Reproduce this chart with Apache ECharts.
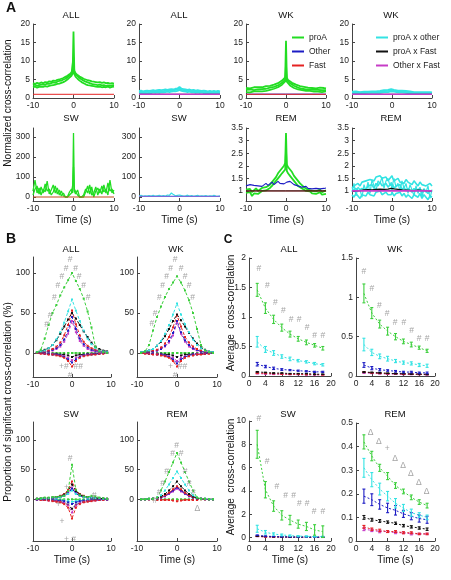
<!DOCTYPE html>
<html><head><meta charset="utf-8">
<script src="https://cdn.jsdelivr.net/npm/echarts@6/dist/echarts.min.js"></script>
<style>html,body{margin:0;padding:0;background:#fff}#c{width:451px;height:580px}</style>
</head><body><div id="c"></div>
<script>
// ---------- Panel A data ----------
const tA = [-10,-9.5,-9,-8.5,-8,-7.5,-7,-6.5,-6,-5.5,-5,-4.5,-4,-3.5,-3,-2.5,-2,-1.5,-1,-0.5,-0.2,0,0.2,0.5,1,1.5,2,2.5,3,3.5,4,4.5,5,5.5,6,6.5,7,7.5,8,8.5,9,9.5,10];
const tFlat = [-10,-0.2,0,0.2,10];
const gAll1 = [4.0,3.8,4.1,3.9,4.2,4.0,4.3,4.2,4.5,4.4,4.7,4.6,4.9,5.0,5.2,5.4,5.7,6.0,6.4,6.9,7.5,18,7.4,6.7,6.2,5.8,5.5,5.2,5.0,4.8,4.7,4.5,4.4,4.3,4.2,4.3,4.1,4.2,4.0,4.1,3.9,4.0,3.9];
const gAll2 = [3.4,3.6,3.3,3.5,3.6,3.7,3.6,3.9,3.8,4.0,4.2,4.1,4.4,4.6,4.7,5.0,5.2,5.6,6.0,6.5,7.0,11,7.0,6.4,5.9,5.4,5.0,4.7,4.4,4.2,4.0,3.8,3.7,3.6,3.5,3.6,3.4,3.5,3.3,3.4,3.3,3.4,3.5];
const gAll3 = [2.9,3.1,2.8,3.0,3.1,3.0,3.2,3.1,3.3,3.4,3.5,3.6,3.8,3.9,4.1,4.3,4.6,5.0,5.5,6.0,6.6,9,6.5,5.8,5.2,4.7,4.3,4.0,3.7,3.5,3.4,3.3,3.2,3.1,3.0,3.1,2.9,3.0,2.9,3.1,2.8,3.0,3.1];
const rAllFlat = [1,1,1.02,1,1];
const cAll1 = [1.9,2.0,1.8,1.9,2.0,1.9,2.0,2.1,2.0,2.1,2.2,2.1,2.2,2.3,2.2,2.3,2.4,2.3,2.5,2.6,2.7,3.0,2.7,2.5,2.4,2.3,2.2,2.3,2.1,2.2,2.0,2.1,2.0,1.9,2.0,1.9,1.8,1.9,1.8,1.9,1.8,1.9,1.8];
const cAll2 = [1.3,1.4,1.2,1.4,1.3,1.4,1.3,1.5,1.4,1.5,1.4,1.6,1.5,1.6,1.7,1.6,1.7,1.8,1.8,1.9,2.0,2.2,2.0,1.9,1.8,1.7,1.6,1.7,1.5,1.6,1.4,1.5,1.4,1.5,1.3,1.4,1.3,1.4,1.2,1.3,1.4,1.3,1.3];
const cAll3 = [1.6,1.7,1.5,1.6,1.7,1.6,1.7,1.8,1.7,1.8,1.8,1.9,1.8,2.0,1.9,2.0,2.1,2.0,2.2,2.3,2.4,2.6,2.3,2.2,2.1,2.0,1.9,2.0,1.8,1.9,1.7,1.8,1.7,1.7,1.6,1.7,1.6,1.6,1.5,1.6,1.6,1.6,1.5];
const mAllFlat = [1,1,1,1,1];
const kAllFlat = [1,1,1.4,1,1];
const gWk1 = [2.7,2.8,2.6,2.8,2.9,2.7,2.9,3.0,2.9,3.1,3.2,3.1,3.3,3.5,3.6,3.8,4.0,4.3,4.7,5.1,5.6,15.5,5.5,4.9,4.5,4.1,3.8,3.6,3.4,3.2,3.1,3.0,2.9,2.8,2.9,2.7,2.8,2.6,2.7,2.8,2.6,2.7,2.6];
const gWk2 = [2.2,2.1,2.3,2.2,2.1,2.4,2.3,2.5,2.4,2.6,2.5,2.7,2.8,2.9,3.0,3.2,3.4,3.7,4.1,4.6,5.0,9,4.9,4.4,4.0,3.6,3.3,3.0,2.8,2.6,2.5,2.4,2.3,2.2,2.3,2.1,2.2,2.1,2.2,2.0,2.1,2.2,2.1];
const gWk3 = [1.6,1.7,1.5,1.7,1.8,1.7,1.8,1.9,1.8,2.0,1.9,2.1,2.2,2.3,2.5,2.7,2.9,3.2,3.6,4.1,4.5,7,4.4,3.9,3.4,3.0,2.7,2.5,2.3,2.2,2.1,2.0,1.9,1.8,1.9,1.8,1.7,1.8,1.7,1.8,1.6,1.7,1.8];
const bWkFlat = [1.05,1.05,1.1,1.05,1.05];
const rWkFlat = [1,1,1,1,1];
const cWk1 = [1.7,1.6,1.8,1.7,1.6,1.8,1.7,1.8,1.7,1.9,1.8,1.9,1.8,2.0,1.9,2.0,2.1,2.0,2.2,2.3,2.4,2.6,2.3,2.2,2.1,2.0,1.9,2.0,1.8,1.9,1.7,1.8,1.7,1.6,1.7,1.6,1.7,1.6,1.5,1.6,1.5,1.6,1.5];
const cWk2 = [1.2,1.3,1.1,1.2,1.3,1.2,1.3,1.2,1.4,1.3,1.4,1.3,1.4,1.5,1.4,1.5,1.6,1.5,1.6,1.7,1.8,2.0,1.8,1.7,1.6,1.5,1.4,1.5,1.3,1.4,1.3,1.2,1.3,1.2,1.3,1.2,1.1,1.2,1.3,1.2,1.1,1.2,1.2];
const cWk3 = [1.45,1.5,1.4,1.5,1.45,1.5,1.5,1.55,1.5,1.6,1.6,1.6,1.6,1.75,1.65,1.75,1.85,1.75,1.9,2.0,2.1,2.3,2.05,1.95,1.85,1.75,1.65,1.75,1.55,1.65,1.5,1.5,1.5,1.4,1.5,1.4,1.4,1.4,1.4,1.4,1.3,1.4,1.35];
const mWkFlat = [1,1,1,1,1];
const kWkFlat = [1,1,1.2,1,1];
const swG1 = [30,85,20,45,10,40,25,80,15,35,60,20,45,10,30,5,0,0,25,40,20,320,30,15,35,0,0,0,25,55,15,50,0,30,45,20,55,25,40,10,85,20,35];
const swG2 = [10,40,55,15,50,20,65,30,40,10,25,55,15,35,5,20,0,0,10,20,60,150,40,30,10,0,0,10,40,20,60,10,20,50,10,40,15,60,20,70,30,40,15];
const swRFlat = [0,0,0,0,0];
const swC = [5,8,3,6,4,7,5,9,4,6,8,5,7,4,10,8,20,12,6,8,5,10,6,7,4,6,9,5,7,3,6,8,4,6,5,7,3,6,4,8,5,3,6];
const swMFlat = [3,3,3,3,3];
const remG1 = [1.05,1.0,1.08,0.95,1.02,1.1,1.0,1.05,1.12,1.08,1.15,1.2,1.25,1.35,1.45,1.55,1.7,1.8,1.9,2.0,2.1,3.3,2.05,1.95,1.85,1.75,1.6,1.5,1.4,1.3,1.25,1.15,1.1,1.05,1.1,1.0,1.05,0.98,1.02,1.05,0.95,1.0,1.02];
const remG2 = [0.92,0.85,0.95,0.8,0.9,0.95,0.88,0.95,1.0,0.98,1.02,1.08,1.12,1.2,1.3,1.4,1.5,1.6,1.7,1.75,1.85,2.6,1.8,1.7,1.6,1.5,1.4,1.3,1.2,1.15,1.1,1.05,1.0,0.95,0.98,0.9,0.95,0.88,0.92,0.95,0.85,0.9,0.88];
const remB = [1.2,1.15,1.25,1.18,1.22,1.28,1.2,1.26,1.18,1.24,1.3,1.22,1.28,1.35,1.25,1.3,1.38,1.3,1.32,1.28,1.35,1.3,1.35,1.3,1.38,1.32,1.25,1.3,1.2,1.22,1.15,1.12,1.18,1.1,1.15,1.08,1.12,1.1,1.15,1.08,1.12,1.1,1.12];
const remRFlat = [1,1,1.06,1,1];
const remKFlat = [1,1,1,1,1];
const remC1 = [1.1,1.2,1.25,1.3,1.2,1.35,1.3,1.4,1.35,1.45,1.5,1.4,1.55,1.5,1.6,1.5,1.45,1.55,1.4,1.5,1.45,1.6,1.5,1.4,1.45,1.5,1.35,1.4,1.3,1.45,1.35,1.3,1.25,1.4,1.3,1.2,1.35,1.25,1.3,1.2,1.25,1.3,1.2];
const remC2 = [0.85,0.75,0.9,0.8,0.7,0.85,0.9,0.8,0.95,0.85,0.9,0.8,0.95,0.9,1.0,0.85,0.9,0.95,0.85,0.9,0.85,0.95,0.9,0.8,0.9,0.85,0.95,0.8,0.9,0.75,0.85,0.9,0.7,0.85,0.8,0.75,0.9,0.7,0.85,0.8,0.65,0.8,0.75];
const remC3 = [1.0,1.05,1.1,1.0,0.95,1.1,1.15,1.05,1.2,1.15,1.25,1.1,1.3,1.2,1.35,1.2,1.25,1.3,1.15,1.25,1.2,1.3,1.25,1.1,1.2,1.15,1.25,1.05,1.15,1.0,1.1,1.15,0.95,1.1,1.0,0.95,1.1,0.9,1.05,1.0,0.9,1.0,0.95];
const remC4 = [0.95,1.3,0.8,1.15,1.05,0.75,1.25,1.0,1.35,0.9,1.45,1.2,1.0,1.4,1.3,1.55,1.1,1.4,1.5,1.2,1.35,1.0,1.3,1.5,1.15,1.3,1.0,1.4,1.1,1.3,0.9,1.25,1.05,0.8,1.2,0.9,1.15,0.75,1.1,0.95,1.2,0.7,1.05];
const remK = [1.0,1.02,1.0,1.03,1.01,1.02,1.04,1.02,1.05,1.03,1.04,1.02,1.06,1.05,1.07,1.05,1.06,1.08,1.07,1.1,1.1,1.15,1.1,1.08,1.07,1.06,1.05,1.04,1.05,1.03,1.04,1.02,1.03,1.01,1.02,1.03,1.01,1.02,1.0,1.01,1.02,1.0,1.01];
const remMFlat = [1,1,1,1,1];

// ---------- Panel B data ----------
const tB = [-9,-8,-7,-6,-5,-4,-3,-2,-1,0,1,2,3,4,5,6,7,8,9];
const bZero = [0,0,0,0,0,0,0,0,0,0,0,0,0,0,0,0,0,0,0];
const bAllG = [1,4,18,35,50,60,72,82,91,100,90,80,68,52,32,8,2,1,0];
const bAllC = [1,2,3,6,10,17,26,38,52,67,53,40,28,18,11,6,3,2,1];
const bAllK = [1,2,4,6,10,16,24,33,42,50,43,35,27,20,13,8,5,3,2];
const bAllR = [0,1,2,3,5,8,13,22,35,53,36,22,14,9,6,4,3,2,1];
const bAllB = [0,1,1,2,4,6,10,17,28,45,30,18,11,7,4,3,2,1,0];
const bAllM = [0,1,1,2,3,5,8,14,24,40,26,15,9,5,3,2,1,1,0];
const bAllRn = [0,-1,-1,-2,-2,-3,-4,-6,-10,-17,-10,-6,-4,-3,-2,-2,-1,-1,0];
const bAllBn = [0,0,-1,-1,-2,-2,-3,-5,-8,-12,-8,-5,-3,-2,-2,-1,-1,0,0];
const bAllMn = [0,0,-1,-1,-1,-2,-3,-4,-6,-9,-6,-4,-3,-2,-1,-1,-1,0,0];
const bAllKn = [0,0,0,-1,-1,-1,-2,-2,-3,-5,-3,-2,-2,-1,-1,-1,0,0,0];
const bWkG = [0,2,10,28,45,58,70,80,88,96,88,78,66,50,30,10,3,1,0];
const bWkC = [1,2,3,5,9,15,24,35,48,62,48,36,26,17,10,6,3,2,1];
const bWkK = [1,2,3,5,9,14,21,30,40,48,41,33,25,18,12,7,4,2,1];
const bWkR = [0,1,2,3,4,7,12,20,32,47,33,20,13,8,5,3,2,1,0];
const bWkB = [0,1,1,2,3,5,9,15,25,40,26,16,10,6,4,2,1,1,0];
const bWkM = [0,1,1,2,3,5,8,13,22,38,24,14,8,5,3,2,1,1,0];
const bWkRn = [0,-1,-1,-2,-2,-3,-4,-6,-10,-17,-10,-6,-4,-3,-2,-2,-1,-1,0];
const bWkBn = [0,0,-1,-1,-2,-2,-3,-5,-8,-13,-8,-5,-3,-2,-2,-1,-1,0,0];
const bWkMn = [0,0,-1,-1,-1,-2,-3,-4,-6,-10,-6,-4,-3,-2,-1,-1,-1,0,0];
const bWkKn = [0,0,0,-1,-1,-1,-2,-2,-3,-5,-3,-2,-2,-1,-1,-1,0,0,0];
const bSwG = [1,2,3,3,4,4,5,6,14,58,16,7,5,4,6,5,3,2,1];
const bSwC = [1,1,2,2,3,3,4,6,9,15,9,6,4,3,3,2,2,1,1];
const bSwK = [1,1,2,2,3,4,5,8,14,25,14,8,5,4,3,2,2,1,1];
const bSwR = [1,1,2,2,3,4,6,9,16,30,16,9,6,4,3,2,2,1,1];
const bSwB = [0,1,1,2,2,3,4,6,10,18,10,6,4,3,2,2,1,1,0];
const bSwM = [0,1,1,2,2,3,4,7,11,20,11,7,4,3,2,2,1,1,0];
const bSwRn = [0,-1,-1,-2,-3,-4,-5,-8,-14,-32,-14,-8,-5,-4,-3,-2,-1,-1,0];
const bSwMn = [0,-1,-1,-2,-2,-3,-4,-6,-10,-22,-10,-6,-4,-3,-2,-2,-1,-1,0];
const bSwKn = [0,0,-1,-1,-2,-3,-4,-6,-9,-16,-9,-6,-4,-3,-2,-1,-1,0,0];
const bSwBn = [0,0,-1,-1,-1,-2,-2,-3,-5,-8,-5,-3,-2,-2,-1,-1,-1,0,0];
const bSwCn = [0,0,0,-1,-1,-1,-2,-2,-3,-4,-3,-2,-2,-1,-1,-1,0,0,0];
const bRemG = [0,0,1,1,3,15,30,46,62,78,62,46,30,15,3,1,1,0,0];
const bRemC = [0,0,1,1,3,7,15,25,36,47,36,25,15,7,3,1,1,0,0];
const bRemK = [0,0,1,1,2,5,9,15,22,30,22,15,9,5,2,1,1,0,0];
const bRemR = [0,0,0,1,2,4,7,11,17,22,17,11,7,4,2,1,0,0,0];
const bRemB = [0,0,0,1,2,3,6,10,15,20,15,10,6,3,2,1,0,0,0];
const bRemM = [0,0,0,1,1,3,5,9,13,18,13,9,5,3,1,1,0,0,0];
const bRemRn = [0,0,0,0,-1,-1,-1,-1,-2,-3,-2,-1,-1,-1,-1,0,0,0,0];
// significance marks (panel B)
const bAllMx = [-0.5,-1.5,0.9,-2.6,1.8,-3.6,3.0,-4.5,4.1,-5.6,-6.5,-2.1,1.6,-0.5];
const bAllMy = [117,106,106,96,96,84,84,69,69,47,36,-17.6,-17.6,-27.7];
const bAllMt = ['#','#','#','#','#','#','#','#','#','#','#','+#','##','#'];
const bWkMx = [-0.5,-1.6,1.0,-2.6,2.0,-3.6,3.0,-4.4,3.9,-5.5,-6.3,-1.6,1.4,-0.5];
const bWkMy = [117,106,106,96,96,84,84,69,69,49,37,-17.6,-17.6,-27.7];
const bWkMt = ['#','#','#','#','#','#','#','#','#','#','#','+','##','#'];
const bSwMx = [-0.5,-1.4,-3.5,5.7,-2.6,-1.4,0.4];
const bSwMy = [69,19,-9,7,-37,-67,-67];
const bSwMt = ['#','+','+','#','+','+','#'];
const bRemMx = [-0.1,-1.1,1.0,-2.6,2.0,-3.6,3.0,-4.5,4.1,-5.5,5.1];
const bRemMy = [91,77,77,47,47,27,27,11,11,-2,-16];
const bRemMt = ['#','#','#','#','#','#','#','#','#','#','Δ'];

// ---------- Panel C data ----------
const tC = [2,4,6,8,10,12,14,16,18];
const cAllG = [1.46,1.15,0.96,0.82,0.71,0.63,0.57,0.52,0.47];
const cAllGe = [0.11,0.09,0.07,0.06,0.05,0.04,0.04,0.03,0.03];
const cAllC = [0.58,0.45,0.39,0.33,0.29,0.26,0.24,0.21,0.19];
const cAllCe = [0.09,0.05,0.04,0.03,0.03,0.02,0.02,0.02,0.02];
const cAllB = [0.2,0.16,0.13,0.11,0.1,0.09,0.08,0.07,0.07];
const cAllBe = [0.03,0.02,0.02,0.015,0.01,0.01,0.01,0.01,0.01];
const cAllK = [0.07,0.06,0.05,0.05,0.04,0.04,0.04,0.03,0.03];
const cAllR = [0.05,0.045,0.04,0.035,0.03,0.03,0.025,0.025,0.02];
const cAllM = [0.04,0.035,0.03,0.03,0.025,0.025,0.02,0.02,0.02];
const cWkG = [1.05,0.8,0.66,0.57,0.5,0.44,0.4,0.36,0.32];
const cWkGe = [0.12,0.07,0.05,0.05,0.04,0.03,0.03,0.02,0.02];
const cWkC = [0.4,0.3,0.25,0.22,0.19,0.17,0.16,0.14,0.13];
const cWkCe = [0.08,0.04,0.03,0.03,0.02,0.02,0.02,0.02,0.02];
const cWkB = [0.14,0.1,0.08,0.07,0.06,0.05,0.05,0.04,0.04];
const cWkBe = [0.03,0.02,0.015,0.01,0.01,0.01,0.01,0.01,0.01];
const cWkK = [0.05,0.045,0.04,0.035,0.03,0.03,0.025,0.025,0.02];
const cWkR = [0.05,0.04,0.035,0.03,0.03,0.025,0.025,0.02,0.02];
const cWkM = [0.04,0.035,0.03,0.025,0.025,0.02,0.02,0.02,0.015];
const cSwG = [8.0,4.1,2.7,1.9,1.5,1.15,0.95,0.65,0.5];
const cSwGe = [1.2,0.7,0.45,0.4,0.4,0.35,0.35,0.45,0.5];
const cSwC = [0.75,0.45,0.3,0.22,0.16,0.12,0.1,0.08,0.07];
const cSwCe = [0.3,0.15,0.1,0.08,0.06,0.05,0.05,0.04,0.04];
const cSwB = [0.2,0.12,0.08,0.06,0.05,0.04,0.04,0.03,0.03];
const cSwK = [0.12,0.08,0.06,0.05,0.04,0.03,0.03,0.03,0.02];
const cSwR = [0.1,0.06,0.05,0.04,0.03,0.03,0.02,0.02,0.02];
const cSwM = [0.08,0.05,0.04,0.03,0.03,0.02,0.02,0.02,0.02];
const cRemG = [0.42,0.36,0.31,0.275,0.235,0.21,0.185,0.165,0.15];
const cRemGe = [0.03,0.02,0.015,0.015,0.012,0.01,0.01,0.01,0.01];
const cRemC = [0.31,0.26,0.22,0.19,0.16,0.14,0.12,0.11,0.1];
const cRemCe = [0.04,0.03,0.025,0.02,0.02,0.015,0.015,0.01,0.01];
const cRemB = [0.19,0.175,0.155,0.14,0.13,0.115,0.105,0.095,0.09];
const cRemBe = [0.03,0.025,0.02,0.02,0.02,0.015,0.015,0.015,0.015];
const cRemK = [0.1,0.09,0.085,0.08,0.075,0.065,0.06,0.055,0.05];
const cRemKe = [0.008,0.006,0.006,0.005,0.005,0.005,0.005,0.005,0.005];
const cRemR = [0.06,0.05,0.045,0.04,0.04,0.035,0.035,0.03,0.03];
const cRemM = [0.05,0.045,0.04,0.04,0.035,0.035,0.03,0.03,0.03];
const cSmallE = [0.006,0.005,0.005,0.004,0.004,0.004,0.004,0.003,0.003];
const cAllMx = [2.4,4.5,6.4,8.4,10.3,12.2,14.2,16,18];
const cAllMy = [1.82,1.53,1.25,1.1,0.96,0.96,0.82,0.68,0.68];
const cWkMx = [2.0,4.0,5.9,7.9,9.9,12.1,14.1,16,18];
const cWkMy = [1.33,1.11,0.9,0.79,0.68,0.68,0.58,0.47,0.47];
const cSwMx = [2.4,4.4,6.8,8.9,10.9,12.3,14.2,15.9,18.0];
const cSwMy = [10.2,6.5,4.4,3.6,3.6,2.9,2.9,2.2,2.2];
const cRemMx = [3.7,5.8,7.9,9.9,11.9,13.9,15.9,17.9];
const cRemMy = [0.46,0.42,0.39,0.35,0.32,0.285,0.247,0.21];
const cRemMt = ['Δ','Δ','+','Δ','Δ','Δ','Δ','Δ'];

// ---------- rendering ----------
const FONT = '"Liberation Sans", Arial, sans-serif';
const GREEN='#22dd22', CYAN='#33e3e3', BLUE='#1c1cc4', RED='#e52222', MAG='#c63cc6', BLACK='#111111', MARK='#8c8c8c';
const BG='#3ccf3c';

const gridBoxes = [
  [33,24,81,74],[139,24,81,74],[246,24,80,74],[352,24,80,74],
  [33,128,81,73],[139,128,81,73],[246,128,80,73],[352,128,80,73],
  [33,257,78,120],[137,257,80,120],[33,422,78,119],[137,422,80,119],
  [249,258,82,118],[356,258,79,118],[249,421,82,120],[356,423,79,118]
];
const grid = gridBoxes.map(b=>({left:b[0],top:b[1],width:b[2],height:b[3],containLabel:false}));

function axBase(){
  return {
    type:'value',
    axisLine:{onZero:false,lineStyle:{color:'#444',width:1}},
    axisTick:{inside:true,length:3,lineStyle:{color:'#444'}},
    axisLabel:{fontSize:8.5,color:'#222',margin:3,fontFamily:FONT},
    splitLine:{show:false}
  };
}
const bottomRow = [4,5,6,7,10,11,14,15];
const xAxis = gridBoxes.map((b,i)=>{
  const a = axBase(); a.gridIndex=i;
  if (i<12){ a.min=-10; a.max=10; a.interval=10; } else { a.min=0; a.max=20; a.interval=4; }
  if (bottomRow.includes(i)){ a.name='Time (s)'; a.nameLocation='middle'; a.nameGap=14.5; a.nameTextStyle={fontSize:10,color:'#111',fontFamily:FONT}; }
  return a;
});
const yCfg = [
  {min:0,max:20,interval:5},{min:0,max:20,interval:5},{min:0,max:20,interval:5},{min:0,max:20,interval:5},
  {min:-20,max:345,cv:[0,100,200,300]},{min:-20,max:345,cv:[0,100,200,300]},
  {min:0.6,max:3.5,cv:[1,1.5,2,2.5,3,3.5]},{min:0.6,max:3.5,cv:[1,1.5,2,2.5,3,3.5]},
  {min:-30,max:120,cv:[0,50,100]},{min:-30,max:120,cv:[0,50,100]},
  {min:-70,max:130,cv:[0,50,100]},{min:-70,max:130,cv:[0,50,100]},
  {min:0,max:2,interval:0.5},{min:0,max:1.5,interval:0.5},
  {min:-0.3,max:10,cv:[0,2,4,6,8,10]},{min:0,max:0.5,interval:0.1}
];
const yAxis = yCfg.map((c,i)=>{
  const a = axBase(); a.gridIndex=i; a.min=c.min; a.max=c.max;
  if (c.interval) a.interval=c.interval;
  if (c.cv){ a.axisLabel.customValues=c.cv; a.axisTick.customValues=c.cv; }
  return a;
});

const series = [];
function pairs(xs,ys){ return xs.map((x,i)=>[x,ys[i]]); }
function line(g,xs,ys,color,o){
  o=o||{};
  series.push({type:'line',xAxisIndex:g,yAxisIndex:g,name:o.name,data:pairs(xs,ys),
    symbol:o.sym||'none',showSymbol:!!o.sym,symbolSize:o.ss||2.5,
    itemStyle:{color:color},lineStyle:{color:color,width:o.w||1,type:o.dash||'solid',opacity:o.op||1},
    silent:true,animation:false,z:o.z||2});
}
function marks(g,xs,ys,ts,label){
  series.push({type:'scatter',xAxisIndex:g,yAxisIndex:g,clip:false,silent:true,animation:false,
    symbolSize:0.01,data:xs.map((x,i)=>[x,ys[i],ts?ts[i]:(label||'#')]),
    label:{show:true,position:'inside',formatter:p=>p.value[2],color:MARK,fontSize:8.5,fontFamily:FONT},z:5});
}
function errs(g,xs,ys,es,color){
  series.push({type:'custom',xAxisIndex:g,yAxisIndex:g,silent:true,animation:false,clip:false,
    data:xs.map((x,i)=>[x,ys[i],es[i]]),encode:{x:0,y:1},z:4,
    renderItem:function(params,api){
      const x=api.value(0),y=api.value(1),e=api.value(2);
      const t=api.coord([x,y+e]), b=api.coord([x,y-e]); const w=1.5;
      const st={stroke:color,lineWidth:1.1};
      return {type:'group',children:[
        {type:'line',shape:{x1:t[0],y1:t[1],x2:b[0],y2:b[1]},style:st},
        {type:'line',shape:{x1:t[0]-w,y1:t[1],x2:t[0]+w,y2:t[1]},style:st},
        {type:'line',shape:{x1:b[0]-w,y1:b[1],x2:b[0]+w,y2:b[1]},style:st}]};
    }});
}

// Panel A
const GW = 1.8;
line(0,tFlat,rAllFlat,RED,{name:'Fast'});
line(0,tA,gAll3,GREEN,{w:GW,name:'proA'});
line(0,tA,gAll2,GREEN,{w:GW,name:'proA'});
line(0,tA,gAll1,GREEN,{w:GW,name:'proA'});
line(1,tA,cAll2,CYAN,{w:GW,name:'proA x other'});
line(1,tA,cAll3,CYAN,{w:GW,name:'proA x other'});
line(1,tA,cAll1,CYAN,{w:GW,name:'proA x other'});
line(1,tFlat,kAllFlat,BLACK,{name:'proA x Fast'});
line(1,tFlat,mAllFlat,MAG,{w:1.6,name:'Other x Fast'});
line(2,tFlat,bWkFlat,BLUE,{name:'Other'});
line(2,tFlat,rWkFlat,RED,{name:'Fast'});
line(2,tA,gWk3,GREEN,{w:GW,name:'proA'});
line(2,tA,gWk2,GREEN,{w:GW,name:'proA'});
line(2,tA,gWk1,GREEN,{w:GW,name:'proA'});
line(3,tA,cWk2,CYAN,{w:GW,name:'proA x other'});
line(3,tA,cWk3,CYAN,{w:GW,name:'proA x other'});
line(3,tA,cWk1,CYAN,{w:GW,name:'proA x other'});
line(3,tFlat,kWkFlat,BLACK,{name:'proA x Fast'});
line(3,tFlat,mWkFlat,MAG,{w:1.6,name:'Other x Fast'});
line(4,tA,swG2,GREEN,{w:1.3,name:'proA'});
line(4,tA,swG1,GREEN,{w:1.3,name:'proA'});
line(4,tFlat,swRFlat,'#c0501a',{w:1.2,name:'Fast'});
line(5,tA,swC,CYAN,{w:1.2,name:'proA x other'});
line(5,tFlat,swMFlat,'#7a6ad8',{w:1.2,name:'Other x Fast'});
line(6,tA,remG2,GREEN,{w:GW,name:'proA'});
line(6,tA,remG1,GREEN,{w:GW,name:'proA'});
line(6,tA,remB,BLUE,{w:1.1,name:'Other'});
line(6,tFlat,remRFlat,RED,{name:'Fast'});
line(6,tFlat,remKFlat,BLACK,{name:'proA x Fast'});
line(7,tA,remC1,CYAN,{w:1.6,name:'proA x other'});
line(7,tA,remC2,CYAN,{w:1.6,name:'proA x other'});
line(7,tA,remC3,CYAN,{w:1.6,name:'proA x other'});
line(7,tA,remC4,CYAN,{w:1.2,name:'proA x other'});
line(7,tA,remK,BLACK,{w:1.2,name:'proA x Fast'});
line(7,tFlat,remMFlat,MAG,{w:1.8,name:'Other x Fast'});

// Panel B
const bOpt = c=>({dash:[3,2],sym:'rect',ss:2,w:1});
function bPanel(g,G,C,K,R,B,M,negs){
  line(g,tB,bZero,BG,bOpt());
  negs.forEach(n=>line(g,tB,n[0],n[1],bOpt()));
  line(g,tB,M,MAG,bOpt()); line(g,tB,B,BLUE,bOpt()); line(g,tB,R,RED,bOpt());
  line(g,tB,K,BLACK,bOpt()); line(g,tB,C,CYAN,bOpt()); line(g,tB,G,BG,bOpt());
}
bPanel(8,bAllG,bAllC,bAllK,bAllR,bAllB,bAllM,[[bAllKn,BLACK],[bAllMn,MAG],[bAllBn,BLUE],[bAllRn,RED]]);
bPanel(9,bWkG,bWkC,bWkK,bWkR,bWkB,bWkM,[[bWkKn,BLACK],[bWkMn,MAG],[bWkBn,BLUE],[bWkRn,RED]]);
bPanel(10,bSwG,bSwC,bSwK,bSwR,bSwB,bSwM,[[bSwCn,CYAN],[bSwBn,BLUE],[bSwKn,BLACK],[bSwMn,MAG],[bSwRn,RED]]);
bPanel(11,bRemG,bRemC,bRemK,bRemR,bRemB,bRemM,[[bRemRn,RED]]);
marks(8,bAllMx,bAllMy,bAllMt); marks(9,bWkMx,bWkMy,bWkMt);
marks(10,bSwMx,bSwMy,bSwMt); marks(11,bRemMx,bRemMy,bRemMt);

// Panel C
const cOpt = {dash:[2,2],w:1};
function cPanel(g,list){
  list.forEach(s=>{ line(g,tC,s[0],s[2],cOpt); errs(g,tC,s[0],s[1],s[2]); });
}
cPanel(12,[[cAllM,cSmallE,MAG],[cAllR,cSmallE,RED],[cAllK,cSmallE,BLACK],[cAllB,cAllBe,BLUE],[cAllC,cAllCe,CYAN],[cAllG,cAllGe,BG]]);
cPanel(13,[[cWkM,cSmallE,MAG],[cWkR,cSmallE,RED],[cWkK,cSmallE,BLACK],[cWkB,cWkBe,BLUE],[cWkC,cWkCe,CYAN],[cWkG,cWkGe,BG]]);
cPanel(14,[[cSwM,cSmallE,MAG],[cSwR,cSmallE,RED],[cSwK,cSmallE,BLACK],[cSwB,cSmallE,BLUE],[cSwC,cSwCe,CYAN],[cSwG,cSwGe,BG]]);
cPanel(15,[[cRemM,cSmallE,MAG],[cRemR,cSmallE,RED],[cRemK,cRemKe,BLACK],[cRemB,cRemBe,BLUE],[cRemC,cRemCe,CYAN],[cRemG,cRemGe,BG]]);
marks(12,cAllMx,cAllMy); marks(13,cWkMx,cWkMy); marks(14,cSwMx,cSwMy); marks(15,cRemMx,cRemMy,cRemMt);

// text elements
function txt(x,y,s,o){
  o=o||{};
  return {type:'text',x:x,y:y,rotation:o.rot||0,silent:true,
    style:{text:s,fill:o.color||'#111',font:(o.bold?'bold ':'')+(o.size||9)+'px '+FONT,
      textAlign:o.align||'center',textVerticalAlign:'middle'}};
}
const titles = [
  [71,15,'ALL'],[179,15,'ALL'],[286,15,'WK'],[391,15,'WK'],
  [71,118,'SW'],[179,118,'SW'],[286,118,'REM'],[391,118,'REM'],
  [71,249,'ALL'],[176,249,'WK'],[71,414,'SW'],[177,414,'REM'],
  [289,249,'ALL'],[395,249,'WK'],[288,414,'SW'],[395,414,'REM']
];
const graphic = titles.map(t=>txt(t[0],t[1],t[2],{size:9.5}));
graphic.push(txt(11,8,'A',{bold:true,size:14,align:'center'}));
graphic.push(txt(11,239,'B',{bold:true,size:14}));
graphic.push(txt(228,240,'C',{bold:true,size:12}));
graphic.push(txt(8,103,'Normalized cross-correlation',{rot:Math.PI/2,size:10}));
graphic.push(txt(8,402,'Proportion of significant cross-correlation (%)',{rot:Math.PI/2,size:10}));
graphic.push(txt(231,313,'Average  cross-correlation',{rot:Math.PI/2,size:10}));
graphic.push(txt(231,477,'Average  cross-correlation',{rot:Math.PI/2,size:10}));

const legendBase = {orient:'vertical',itemWidth:12,itemHeight:2,itemGap:5,icon:'rect',selectedMode:false,
  textStyle:{fontSize:8.5,color:'#222',fontFamily:FONT},padding:0};
const option = {
  animation:false,
  backgroundColor:'#ffffff',
  grid:grid, xAxis:xAxis, yAxis:yAxis, series:series, graphic:graphic,
  legend:[
    Object.assign({},legendBase,{data:['proA','Other','Fast'],left:292,top:33}),
    Object.assign({},legendBase,{data:['proA x other','proA x Fast','Other x Fast'],left:376,top:33})
  ]
};
const chart = echarts.init(document.getElementById('c'),null,{renderer:'canvas'});
chart.setOption(option);
</script></body></html>
